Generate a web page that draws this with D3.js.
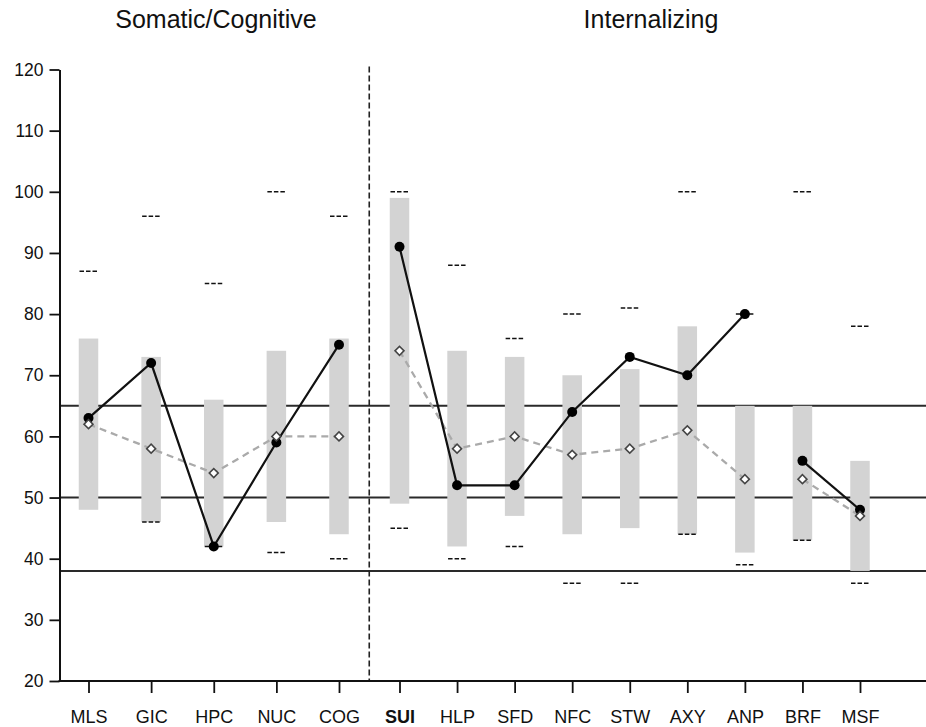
<!DOCTYPE html>
<html>
<head>
<meta charset="utf-8">
<script src="https://cdn.jsdelivr.net/npm/d3@7"></script>
<style>
  body { margin: 0; background: #fff; }
  svg { display: block; font-family: "Liberation Sans", Arial, Helvetica, sans-serif; }
</style>
</head>
<body>
<svg id="chart" width="926" height="727"></svg>
<script>
// scales
var somaticScales = ["MLS", "GIC", "HPC", "NUC", "COG"];
var internalScales = ["SUI", "HLP", "SFD", "NFC", "STW", "AXY", "ANP", "BRF", "MSF"];
var groupTitles = ["Somatic/Cognitive", "Internalizing"];
var yTicks = [20, 30, 40, 50, 60, 70, 80, 90, 100, 110, 120];
var refLines = [65, 50, 38];

// solid line (filled dots) and dashed line (open diamonds)
var somaticScore = [63, 72, 42, 59, 75];
var internalScore = [91, 52, 52, 64, 73, 70, 80, 56, 48];
var somaticComp = [62, 58, 54, 60, 60];
var internalComp = [74, 58, 60, 57, 58, 61, 53, 53, 47];

// grey range bars
var somaticBarLow = [48, 46, 42, 46, 44];
var somaticBarHigh = [76, 73, 66, 74, 76];
var internalBarLow = [49, 42, 47, 44, 45, 44, 41, 43, 38];
var internalBarHigh = [99, 74, 73, 70, 71, 78, 65, 65, 56];

// short "---" marks above and below
var somaticMax = [87, 96, 85, 100, 96];
var somaticMin = [null, 46, 42, 41, 40];
var internalMax = [100, 88, 76, 80, 81, 100, 80, 100, 78];
var internalMin = [45, 40, 42, 36, 36, 44, 39, 43, 36];

// lines break between these sub-groups
var lineGroups = [
  ["MLS", "GIC", "HPC", "NUC", "COG"],
  ["SUI", "HLP", "SFD", "NFC", "STW", "AXY", "ANP"],
  ["BRF", "MSF"]
];

var svg = d3.select("#chart");
var width = 926;

var y = d3.scaleLinear().domain([20, 120]).range([681, 69.5]);
var xLeft = d3.scalePoint().domain(somaticScales).range([88.5, 339]);
var xRight = d3.scalePoint().domain(internalScales).range([399.5, 860]);

function xPos(c) {
  return somaticScales.indexOf(c) >= 0 ? xLeft(c) : xRight(c);
}

var rows = [];
somaticScales.forEach(function(c, i) {
  rows.push({ cat: c, score: somaticScore[i], comp: somaticComp[i], lo: somaticBarLow[i],
    hi: somaticBarHigh[i], max: somaticMax[i], min: somaticMin[i] });
});
internalScales.forEach(function(c, i) {
  rows.push({ cat: c, score: internalScore[i], comp: internalComp[i], lo: internalBarLow[i],
    hi: internalBarHigh[i], max: internalMax[i], min: internalMin[i] });
});
var byCat = {};
rows.forEach(function(d) { byCat[d.cat] = d; });

var axisLeftX = 59.5;
var splitX = (xLeft("COG") + xRight("SUI")) / 2;

// titles
svg.selectAll("text.title")
  .data(groupTitles)
  .enter().append("text")
  .attr("class", "title")
  .attr("x", function(d, i) { return i == 0 ? 216 : 651; })
  .attr("y", 28)
  .attr("text-anchor", "middle")
  .style("font-size", "25px")
  .attr("fill", "#111")
  .text(function(d) { return d; });

// reference lines
svg.append("g")
  .selectAll("line")
  .data(refLines)
  .enter().append("line")
  .attr("x1", axisLeftX)
  .attr("x2", width)
  .attr("y1", function(d) { return y(d); })
  .attr("y2", function(d) { return y(d); })
  .attr("stroke", "#2a2a2a")
  .attr("stroke-width", 2);

// divider
svg.append("line")
  .attr("x1", splitX).attr("x2", splitX)
  .attr("y1", y(120) - 3).attr("y2", y(20))
  .attr("stroke", "#222")
  .attr("stroke-width", 1.6)
  .attr("stroke-dasharray", "6,3");

// bars
svg.append("g")
  .selectAll("rect")
  .data(rows)
  .enter().append("rect")
  .attr("x", function(d) { return xPos(d.cat) - 9.75; })
  .attr("width", 19.5)
  .attr("y", function(d) { return y(d.hi); })
  .attr("height", function(d) { return y(d.lo) - y(d.hi); })
  .attr("fill", "#d3d3d3");

// --- marks
var marks = [];
rows.forEach(function(d) {
  if (d.max != null) marks.push({ cat: d.cat, v: d.max });
  if (d.min != null) marks.push({ cat: d.cat, v: d.min });
});
svg.append("g")
  .selectAll("line")
  .data(marks)
  .enter().append("line")
  .attr("x1", function(d) { return xPos(d.cat) - 9; })
  .attr("x2", function(d) { return xPos(d.cat) + 9; })
  .attr("y1", function(d) { return y(d.v); })
  .attr("y2", function(d) { return y(d.v); })
  .attr("stroke", "#111")
  .attr("stroke-width", 1.5)
  .attr("stroke-dasharray", "4.5,2");

// lines
var lineScore = d3.line()
  .x(function(c) { return xPos(c); })
  .y(function(c) { return y(byCat[c].score); });
var lineComp = d3.line()
  .x(function(c) { return xPos(c); })
  .y(function(c) { return y(byCat[c].comp); });

svg.append("g")
  .selectAll("path")
  .data(lineGroups)
  .enter().append("path")
  .attr("d", lineComp)
  .attr("fill", "none")
  .attr("stroke", "#aaaaaa")
  .attr("stroke-width", 2.3)
  .attr("stroke-dasharray", "7,5");

svg.append("g")
  .selectAll("path")
  .data(lineGroups)
  .enter().append("path")
  .attr("d", lineScore)
  .attr("fill", "none")
  .attr("stroke", "#111")
  .attr("stroke-width", 2.2);

svg.append("g")
  .selectAll("circle")
  .data(rows)
  .enter().append("circle")
  .attr("cx", function(d) { return xPos(d.cat); })
  .attr("cy", function(d) { return y(d.score); })
  .attr("r", 5)
  .attr("fill", "#000");

var diamond = d3.symbol().type(d3.symbolSquare).size(40);
svg.append("g")
  .selectAll("path")
  .data(rows)
  .enter().append("path")
  .attr("d", diamond)
  .attr("transform", function(d) {
    return "translate(" + xPos(d.cat) + "," + y(d.comp) + ") rotate(45)";
  })
  .attr("fill", "#fff")
  .attr("stroke", "#444")
  .attr("stroke-width", 1.6);

// y axis
var yAxis = svg.append("g")
  .attr("transform", "translate(" + axisLeftX + ",0)")
  .call(d3.axisLeft(y).tickValues(yTicks).tickSize(10).tickSizeOuter(0).tickPadding(6));
yAxis.select(".domain").attr("stroke", "#111").attr("stroke-width", 2);
yAxis.selectAll(".tick line").attr("stroke", "#111").attr("stroke-width", 1.8);
yAxis.selectAll(".tick text")
  .style("font-size", "17.5px")
  .style("font-family", "Liberation Sans, Arial, sans-serif")
  .attr("fill", "#111");

// x axis
svg.append("line")
  .attr("x1", axisLeftX - 1).attr("x2", width)
  .attr("y1", y(20)).attr("y2", y(20))
  .attr("stroke", "#111")
  .attr("stroke-width", 2);

[xLeft, xRight].forEach(function(sc) {
  var g = svg.append("g")
    .attr("transform", "translate(0," + y(20) + ")")
    .call(d3.axisBottom(sc).tickSize(12).tickSizeOuter(0).tickPadding(17));
  g.select(".domain").remove();
  g.selectAll(".tick line").attr("stroke", "#111").attr("stroke-width", 1.8);
  g.selectAll(".tick text")
    .style("font-size", "18px")
    .style("font-family", "Liberation Sans, Arial, sans-serif")
    .style("font-weight", function(d) { return d == "SUI" ? "bold" : "normal"; })
    .attr("fill", "#111");
});
</script>
</body>
</html>
